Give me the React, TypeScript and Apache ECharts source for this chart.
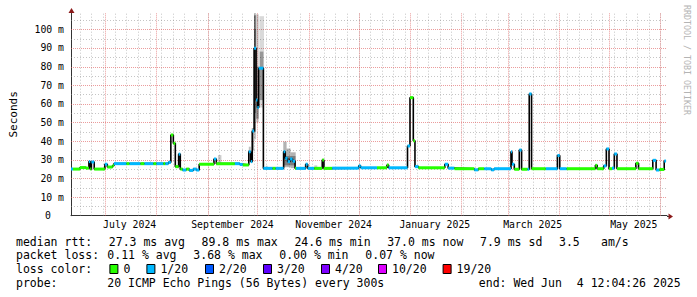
import { useEffect, useRef } from 'react';
import * as echarts from 'echarts';

const DAY = 86400000;
const RANGE_START = Date.UTC(2024, 5, 10, 15, 22);
const RANGE_DAYS = 359.37;
const Y_MAX = 108.7;
const dayOf = (iso: string) => (Date.parse(iso + 'T00:00:00Z') - RANGE_START) / DAY;

const monthStarts = [
  '2024-07-01', '2024-08-01', '2024-09-01', '2024-10-01', '2024-11-01', '2024-12-01',
  '2025-01-01', '2025-02-01', '2025-03-01', '2025-04-01', '2025-05-01', '2025-06-01',
];
const monthLabels = ['July 2024', 'September 2024', 'November 2024', 'January 2025', 'March 2025', 'May 2025'];
const monthLabelDates = ['2024-07-16', '2024-09-16', '2024-11-16', '2025-01-16', '2025-03-16', '2025-05-16'];
const firstWeekLine = '2024-06-16';
const yMajor = [10, 20, 30, 40, 50, 60, 70, 80, 90, 100];
const yMinor = [5, 15, 25, 35, 45, 55, 65, 75, 85, 95, 105];

// median rtt steps: [day from range start, ms, loss bucket]
const medianSteps: [number, number, number][] = [
  [0.0, 25.0, 1], [1.2, 25.0, 0], [5.4, 25.8, 0], [9.0, 25.5, 0], [10.8, 29.0, 1],
  [11.6, 25.0, 0], [12.3, 28.8, 1], [14.0, 25.0, 0], [20.4, 27.6, 1], [21.9, 26.1, 0],
  [25.0, 26.8, 0], [25.9, 27.9, 1], [33.5, 27.9, 0], [35.3, 27.9, 1], [41.9, 27.9, 0],
  [44.3, 27.9, 1], [49.7, 27.9, 0], [51.5, 27.9, 1], [55.7, 27.9, 0], [56.9, 27.9, 1],
  [58.7, 28.6, 1], [60.2, 43.3, 0], [61.7, 38.8, 0], [62.9, 26.3, 0], [64.9, 33.0, 1],
  [65.9, 25.0, 0], [67.3, 24.5, 1], [69.5, 25.0, 0], [71.3, 24.3, 1], [73.7, 25.0, 1],
  [75.5, 24.5, 1], [77.3, 27.6, 0], [86.2, 30.4, 1], [87.6, 27.9, 0], [98.8, 27.9, 1],
  [101.8, 27.5, 1], [103.6, 27.2, 0], [107.2, 34.3, 1], [108.4, 29.0, 1], [109.3, 45.4, 1],
  [110.4, 89.8, 1], [111.6, 62.0, 1], [112.4, 58.0, 1], [113.2, 79.1, 1], [116.0, 25.4, 1],
  [121.6, 25.4, 0], [123.4, 25.4, 1], [128.2, 34.3, 1], [129.2, 30.8, 1], [130.6, 29.0, 1],
  [132.1, 30.4, 1], [133.6, 29.2, 1], [135.1, 25.4, 0], [135.7, 25.4, 1], [141.5, 27.6, 1],
  [142.7, 25.4, 1], [146.7, 25.4, 0], [151.5, 29.9, 0], [152.5, 25.4, 0], [157.5, 25.5, 1],
  [173.5, 26.7, 1], [174.7, 25.7, 1], [184.5, 25.7, 0], [190.5, 27.2, 0], [191.5, 25.7, 1],
  [202.9, 37.4, 1], [204.4, 63.3, 0], [206.4, 40.2, 0], [207.4, 26.3, 1], [209.5, 25.7, 0],
  [225.4, 27.6, 1], [227.4, 25.5, 1], [231.2, 25.2, 0], [243.2, 24.6, 1], [245.6, 25.2, 0],
  [249.2, 25.2, 1], [253.4, 24.6, 1], [255.1, 25.2, 1], [265.3, 34.3, 1], [265.9, 27.6, 1],
  [267.3, 24.9, 0], [270.3, 35.2, 1], [271.7, 24.9, 0], [275.3, 24.9, 1], [276.3, 65.3, 1],
  [277.7, 25.2, 0], [286.3, 25.2, 1], [293.3, 32.3, 1], [294.7, 25.2, 1], [298.9, 25.2, 0],
  [316.2, 27.0, 0], [317.3, 25.2, 0], [321.2, 26.7, 1], [322.8, 35.8, 1], [324.4, 25.2, 0],
  [326.2, 25.5, 1], [327.6, 33.1, 1], [329.2, 25.2, 0], [340.6, 28.1, 0], [342.2, 25.2, 0],
  [350.8, 29.7, 1], [352.8, 24.5, 1], [354.8, 24.8, 0], [357.7, 29.3, 1],
];
const medianEnd = 358.8;

// smoke bands: [day from, day to, low ms, high ms, darkness]
const smokeBands: [number, number, number, number, number][] = [
  [107.2, 108.4, 29, 37, 0.25], [109.0, 110.4, 35, 47, 0.35],
  [110.4, 111.6, 41, 108.7, 0.22], [110.4, 111.6, 55, 100, 0.3], [110.6, 111.2, 45, 107.5, 0.85],
  [111.6, 113.2, 50, 108, 0.2], [111.6, 113.2, 52, 80, 0.3],
  [113.6, 116.4, 58, 107, 0.15], [113.8, 116.0, 62, 88, 0.3],
  [88.6, 90.7, 28, 32.5, 0.2],
  [128.0, 130.0, 26, 39.7, 0.3], [130.0, 132.4, 26, 36, 0.3], [132.4, 135.5, 25.5, 34, 0.3],
  [128.2, 135.4, 27, 32, 0.3],
  [117.4, 118.6, 25.4, 26.8, 0.2], [146.7, 148.5, 25.4, 27, 0.2],
];

const lossColors = ['#26ff00', '#00b8ff', '#0059ff', '#5e00ff', '#7e00ff', '#dd00ff', '#ff0000'];
const lossLabels = ['0', '1/20', '2/20', '3/20', '4/20', '10/20', '19/20'];
const rttStats = ['27.3 ms avg', '89.8 ms max', '24.6 ms min', '37.0 ms now', '7.9 ms sd', '3.5', 'am/s'];
const lossStats = ['0.11 % avg', '3.68 % max', '0.00 % min', '0.07 % now'];
const probeText = '20 ICMP Echo Pings (56 Bytes) every 300s';
const endText = ['end: Wed Jun', '4 12:04:26 2025'];
const watermark = 'RRDTOOL / TOBI OETIKER';

const MONO = '"DejaVu Sans Mono", monospace';
const MAJOR = 'rgba(222, 90, 90, 0.6)';
const MINOR = 'rgba(140, 140, 140, 0.5)';
const ARROW = '#8b1a1a';
const AXIS = '#333333';

function buildOption() {
  const gridData: number[][] = [];
  for (let d = dayOf(firstWeekLine); d < RANGE_DAYS; d += 7) gridData.push([d, 0, 0]);
  monthStarts.forEach((s) => gridData.push([dayOf(s), 0, 1]));
  yMinor.forEach((v) => gridData.push([0, v, 2]));
  yMajor.forEach((v) => gridData.push([0, v, 3]));

  const segData = medianSteps.map((s, i) => [
    s[0], i + 1 < medianSteps.length ? medianSteps[i + 1][0] : medianEnd, s[1], s[2],
  ]);
  const stepData = medianSteps.map((s) => [s[0], s[1]]);
  stepData.push([medianEnd, medianSteps[medianSteps.length - 1][1]]);

  const labelData = monthLabelDates.map((d, i) => [dayOf(d), 0, i]);

  const txt = (x: number, y: number, text: string, size = 11.5) => ({
    type: 'text', x, y, silent: true,
    style: { text, fill: '#000', font: `${size}px ${MONO}`, textVerticalAlign: 'middle', verticalAlign: 'middle' },
  });

  const rowY = [241.6, 255.3, 269.0, 282.7];
  const rttX = [108.8, 201.6, 294.4, 387.2, 480, 559, 601];
  const lossX = [107.3, 193.3, 279.3, 365.3];
  const colorLabelX = [123.4, 160.4, 219, 277, 335, 392, 456.6];

  const graphics: any[] = [];
  graphics.push(txt(16, rowY[0], 'median rtt:'));
  rttStats.forEach((t, i) => graphics.push(txt(rttX[i], rowY[0], t)));
  graphics.push(txt(16, rowY[1], 'packet loss:'));
  lossStats.forEach((t, i) => graphics.push(txt(lossX[i], rowY[1], t)));
  graphics.push(txt(16, rowY[2], 'loss color:'));
  lossLabels.forEach((t, i) => {
    graphics.push({
      type: 'rect', silent: true,
      shape: { x: colorLabelX[i] - 13.5, y: rowY[2] - 4.5, width: 8, height: 9 },
      style: { fill: lossColors[i], stroke: '#000', lineWidth: 1 },
    });
    graphics.push(txt(colorLabelX[i], rowY[2], t));
  });
  graphics.push(txt(16, rowY[3], 'probe:'));
  graphics.push(txt(107.3, rowY[3], probeText));
  graphics.push(txt(478.8, rowY[3], endText[0]));
  graphics.push(txt(576.8, rowY[3], endText[1]));
  graphics.push({
    type: 'text', x: 687, y: 5, rotation: -Math.PI / 2, silent: true,
    style: {
      text: watermark, fill: '#b4b4b4', font: `8.3px ${MONO}`,
      textAlign: 'left', align: 'left', textVerticalAlign: 'middle', verticalAlign: 'middle',
    },
  });

  const labelStyle = { fontFamily: MONO, fontSize: 9.8, color: '#000' };

  return {
    animation: false,
    backgroundColor: '#ffffff',
    grid: { left: 67, top: 13, width: 600, height: 202.7 },
    xAxis: {
      type: 'value', min: 0, max: RANGE_DAYS,
      axisLine: { show: true, lineStyle: { color: AXIS, width: 1 } },
      axisTick: { show: false }, axisLabel: { show: false }, splitLine: { show: false },
    },
    yAxis: {
      type: 'value', min: 0, max: Y_MAX, interval: 10,
      name: 'Seconds', nameLocation: 'middle', nameGap: 52,
      nameTextStyle: { fontFamily: MONO, fontSize: 11, color: '#000' },
      axisLine: { show: true, lineStyle: { color: AXIS, width: 1 } },
      axisTick: { show: false }, splitLine: { show: false },
      axisLabel: {
        margin: 7, ...labelStyle, showMaxLabel: false,
        formatter: (v: number) => (v === 0 ? '{z|0}' : `{n|${v} m}`),
        rich: { n: { ...labelStyle }, z: { ...labelStyle, padding: [0, 13, 0, 0] } },
      },
    },
    graphic: graphics,
    series: [
      {
        type: 'custom', name: 'grid', silent: true, data: gridData, z: 1,
        encode: { x: 0, y: 1 },
        renderItem: (_p: any, api: any) => {
          const kind = api.value(2);
          if (kind < 2) {
            const a = api.coord([api.value(0), 0]);
            const b = api.coord([api.value(0), Y_MAX]);
            const x = Math.round(a[0]) + 0.5;
            return {
              type: 'line', silent: true,
              shape: { x1: x, y1: a[1], x2: x, y2: b[1] },
              style: { stroke: kind === 1 ? MAJOR : MINOR, lineWidth: 1, lineDash: kind === 1 ? [1, 1] : [1, 2] },
            };
          }
          const a = api.coord([0, api.value(1)]);
          const b = api.coord([RANGE_DAYS, api.value(1)]);
          const y = Math.round(a[1]) + 0.5;
          return {
            type: 'line', silent: true,
            shape: { x1: a[0], y1: y, x2: b[0], y2: y },
            style: { stroke: kind === 3 ? MAJOR : MINOR, lineWidth: 1, lineDash: kind === 3 ? [1, 1] : [1, 2] },
          };
        },
      },
      {
        type: 'custom', name: 'smoke', silent: true, data: smokeBands, z: 2,
        encode: { x: [0, 1], y: [2, 3] },
        renderItem: (_p: any, api: any) => {
          const a = api.coord([api.value(0), api.value(3)]);
          const b = api.coord([api.value(1), api.value(2)]);
          return {
            type: 'rect', silent: true,
            shape: { x: a[0], y: a[1], width: b[0] - a[0], height: b[1] - a[1] },
            style: { fill: `rgba(0,0,0,${api.value(4)})` },
          };
        },
      },
      {
        type: 'line', name: 'median', step: 'end', data: stepData, symbol: 'none', silent: true, z: 3,
        lineStyle: { color: '#000', width: 1.6 },
      },
      {
        type: 'custom', name: 'loss', silent: true, data: segData, z: 4,
        encode: { x: [0, 1], y: 2 },
        renderItem: (_p: any, api: any) => {
          const a = api.coord([api.value(0), api.value(2)]);
          const b = api.coord([api.value(1), api.value(2)]);
          return {
            type: 'rect', silent: true, z2: 10,
            shape: { x: a[0], y: a[1] - 1.5, width: b[0] - a[0], height: 3 },
            style: { fill: lossColors[api.value(3)] },
          };
        },
      },
      {
        type: 'custom', name: 'labels', silent: true, data: labelData, z: 5,
        encode: { x: 0, y: 1 },
        renderItem: (_p: any, api: any) => {
          const a = api.coord([api.value(0), 0]);
          return {
            type: 'text', silent: true, x: a[0], y: a[1] + 9,
            style: {
              text: monthLabels[api.value(2)], fill: '#000', font: `9.8px ${MONO}`,
              textAlign: 'center', align: 'center', textVerticalAlign: 'middle', verticalAlign: 'middle',
            },
          };
        },
      },
      {
        type: 'custom', name: 'arrows', silent: true, data: [[0, 0]], z: 5,
        encode: { x: 0, y: 1 },
        renderItem: (_p: any, api: any) => {
          const xe = api.coord([RANGE_DAYS, 0]);
          const yt = api.coord([0, Y_MAX]);
          const y0 = Math.round(xe[1]) + 0.5;
          const x0 = Math.round(yt[0]) + 0.5;
          return {
            type: 'group', silent: true,
            children: [
              { type: 'line', shape: { x1: xe[0], y1: y0, x2: xe[0] + 2, y2: y0 }, style: { stroke: AXIS, lineWidth: 1 } },
              { type: 'polygon', shape: { points: [[xe[0] + 1.5, y0 - 3], [xe[0] + 1.5, y0 + 3], [xe[0] + 6, y0]] }, style: { fill: ARROW } },
              { type: 'polygon', shape: { points: [[x0 - 3, yt[1]], [x0 + 3, yt[1]], [x0, yt[1] - 5]] }, style: { fill: ARROW } },
            ],
          };
        },
      },
    ],
  };
}

export default function App() {
  const ref = useRef<HTMLDivElement>(null);
  useEffect(() => {
    document.body.style.margin = '0';
    if (!ref.current) return;
    const chart = echarts.init(ref.current, undefined, { renderer: 'svg' });
    chart.setOption(buildOption() as any);
    return () => chart.dispose();
  }, []);
  return <div ref={ref} style={{ width: 697, height: 297 }} />;
}
